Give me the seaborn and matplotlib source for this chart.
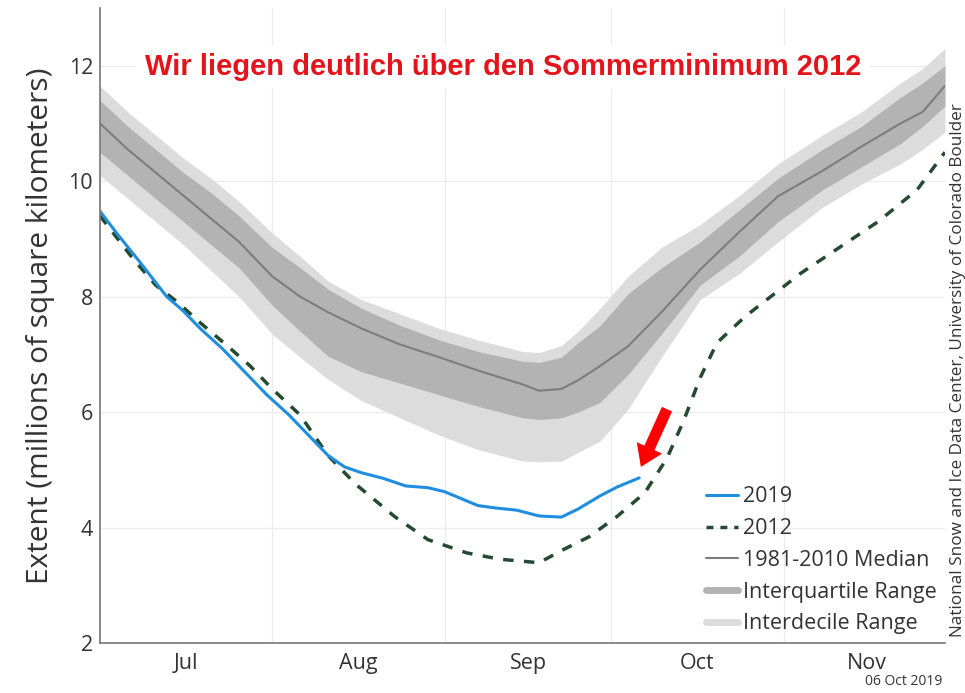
import numpy as np
import pandas as pd
import matplotlib.pyplot as plt
import seaborn as sns

# days since 1 July
band_days = [0, 5, 10, 15, 20, 25, 31, 36, 41, 47, 54, 61, 68, 76, 79, 83, 86, 90,
             95, 101, 108, 115, 122, 130, 137, 144, 148, 152]
median = [11.0, 10.55, 10.15, 9.75, 9.35, 8.95, 8.35, 8.0, 7.73, 7.45, 7.17, 6.95, 6.72,
          6.48, 6.37, 6.40, 6.55, 6.8, 7.14, 7.73, 8.47, 9.12, 9.74, 10.18, 10.6, 11.0,
          11.2, 11.65]
upper_decile = [11.65, 11.2, 10.8, 10.4, 10.05, 9.65, 9.1, 8.7, 8.27, 7.95, 7.7, 7.45, 7.25,
                7.05, 7.03, 7.15, 7.4, 7.8, 8.35, 8.85, 9.25, 9.75, 10.3, 10.8, 11.2, 11.7,
                11.95, 12.3]
upper_quartile = [11.4, 10.95, 10.55, 10.15, 9.8, 9.4, 8.85, 8.5, 8.13, 7.8, 7.5, 7.25, 7.05,
                  6.88, 6.86, 6.95, 7.2, 7.5, 8.05, 8.5, 8.95, 9.5, 10.05, 10.55, 10.95, 11.45,
                  11.7, 12.0]
lower_quartile = [10.5, 10.1, 9.7, 9.3, 8.9, 8.5, 7.85, 7.4, 6.97, 6.7, 6.5, 6.3, 6.1,
                  5.9, 5.87, 5.9, 6.0, 6.17, 6.65, 7.35, 8.2, 8.7, 9.3, 9.85, 10.25, 10.65,
                  10.95, 11.3]
lower_decile = [10.1, 9.7, 9.3, 8.9, 8.45, 8.0, 7.35, 6.95, 6.57, 6.2, 5.9, 5.6, 5.35,
                5.15, 5.14, 5.15, 5.3, 5.5, 6.05, 6.95, 7.95, 8.4, 8.95, 9.55, 9.95, 10.3,
                10.55, 10.85]

days_2019 = [0, 3, 7, 12, 15, 18, 22, 26, 30, 34, 38, 41, 44, 47, 51, 55, 59, 62, 65, 68,
             71, 75, 79, 83, 86, 90, 93, 97]
ext_2019 = [9.48, 9.1, 8.62, 8.0, 7.75, 7.45, 7.1, 6.7, 6.3, 5.95, 5.55, 5.25, 5.05, 4.95,
            4.85, 4.72, 4.69, 4.62, 4.5, 4.38, 4.34, 4.3, 4.2, 4.18, 4.32, 4.55, 4.7, 4.86]

days_2012 = [0, 6, 10, 14, 18, 23, 27, 31, 36, 41, 46, 53, 59, 66, 72, 79, 83, 88, 93, 98,
             102, 105, 108, 111, 116, 120, 126, 133, 140, 147, 152]
ext_2012 = [9.4, 8.65, 8.2, 7.9, 7.55, 7.14, 6.8, 6.4, 5.95, 5.25, 4.75, 4.19, 3.79, 3.56,
            3.45, 3.39, 3.6, 3.84, 4.19, 4.6, 5.2, 5.85, 6.6, 7.2, 7.65, 7.95, 8.4, 8.85,
            9.3, 9.85, 10.5]

month_starts = [0, 31, 62, 92, 123, 153]
month_names = ['Jul', 'Aug', 'Sep', 'Oct', 'Nov']

sns.set_style('whitegrid')
plt.rcParams['font.family'] = ['Open Sans', 'DejaVu Sans']

fig = plt.figure(figsize=(9.65, 6.93), dpi=100)
ax = fig.add_axes([0.1036, 0.0722, 0.8756, 0.9163])

ax.fill_between(band_days, lower_decile, upper_decile, color='#dcdcdc', lw=0)
ax.fill_between(band_days, lower_quartile, upper_quartile, color='#b3b3b3', lw=0)

sns.lineplot(x=band_days, y=median, ax=ax, color='#7d7d7d', lw=1.5)
sns.lineplot(x=days_2012, y=ext_2012, ax=ax, color='#254a30', lw=2.5, linestyle=(0, (3, 3)))
sns.lineplot(x=days_2019, y=ext_2019, ax=ax, color='#1f8ee0', lw=2.2)

ax.set_xlim(0, 152)
ax.set_ylim(2, 13)
ax.set_yticks([2, 4, 6, 8, 10, 12])
ax.set_xticks(month_starts[1:-1])
ax.set_xticklabels([])
ax.set_xticks([(a + b) / 2 for a, b in zip(month_starts[:-1], month_starts[1:])], minor=True)
ax.set_xticklabels(month_names, minor=True)
ax.tick_params(axis='x', which='minor', length=0, labelsize=15.5, colors='#333333', pad=7)
ax.tick_params(axis='x', which='major', length=4, color='#aaaaaa', direction='in')
ax.tick_params(axis='y', length=0, labelsize=15.5, colors='#333333', pad=5)
ax.grid(True, which='major', color='#ececec', lw=1)
ax.set_axisbelow(True)
for s in ['top', 'right']:
    ax.spines[s].set_visible(False)
for s in ['left', 'bottom']:
    ax.spines[s].set_color('#777777')
    ax.spines[s].set_linewidth(1.2)
ax.set_ylabel('Extent (millions of square kilometers)', fontsize=21.5, color='#333333', labelpad=10)

ax.text(0.477, 0.907, 'Wir liegen deutlich über den Sommerminimum 2012', transform=ax.transAxes,
        ha='center', va='center', fontsize=21, fontweight='bold', color='#e3141c',
        family='Liberation Sans',
        bbox=dict(facecolor='white', edgecolor='none', pad=6))

ax.annotate('', xy=(97.3, 5.05), xytext=(102, 6.05),
            arrowprops=dict(facecolor='#ff0000', edgecolor='none', width=8, headwidth=20,
                            headlength=15))

handles = [
    plt.Line2D([], [], color='#1f8ee0', lw=2.2),
    plt.Line2D([], [], color='#254a30', lw=2.5, linestyle=(0, (2, 2))),
    plt.Line2D([], [], color='#7d7d7d', lw=1.5),
    plt.Line2D([], [], color='#b3b3b3', lw=5),
    plt.Line2D([], [], color='#dcdcdc', lw=5),
]
labels = ['2019', '2012', '1981-2010 Median', 'Interquartile Range', 'Interdecile Range']
leg = ax.legend(handles, labels, loc='lower right', bbox_to_anchor=(1.0, 0.0), frameon=False,
                fontsize=15.5, handlelength=1.5, handletextpad=0.2, labelspacing=0.5,
                borderaxespad=0.0)
for t in leg.get_texts():
    t.set_color('#333333')

fig.text(0.993, 0.466, 'National Snow and Ice Data Center, University of Colorado Boulder',
         rotation=90, ha='center', va='center', fontsize=12.3, color='#333333')
fig.text(0.977, 0.016, '06 Oct 2019', ha='right', va='center', fontsize=10, color='#333333')

fig.savefig('out.png', dpi=100)
